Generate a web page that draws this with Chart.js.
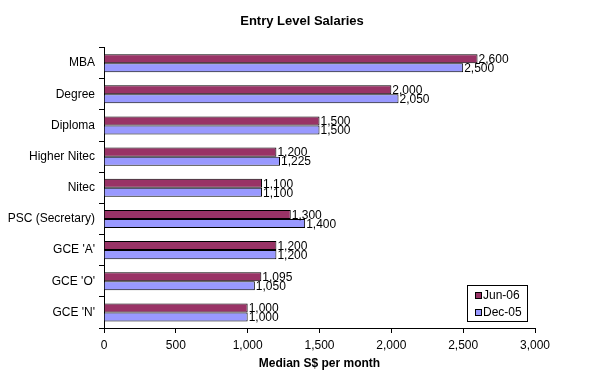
<!DOCTYPE html>
<html>
<head>
<meta charset="utf-8">
<script src="https://cdn.jsdelivr.net/npm/chart.js@4.4.0/dist/chart.umd.min.js"></script>
<style>
  html, body { margin: 0; padding: 0; background: #fff; }
  #wrap { width: 604px; height: 380px; }
</style>
</head>
<body>
<div id="wrap"><canvas id="barChart" width="604" height="380"></canvas></div>
<script>
var categories = ['MBA', 'Degree', 'Diploma', 'Higher Nitec', 'Nitec', 'PSC (Secretary)', "GCE 'A'", "GCE 'O'", "GCE 'N'"];
var jun06 = [2600, 2000, 1500, 1200, 1100, 1300, 1200, 1095, 1000];
var dec05 = [2500, 2050, 1500, 1225, 1100, 1400, 1200, 1050, 1000];
var seriesNames = ['Jun-06', 'Dec-05'];
var xTicks = [0, 500, 1000, 1500, 2000, 2500, 3000];

var FONT = "'Liberation Sans', Arial, sans-serif";

// value labels at the end of each bar
var valueLabels = {
    id: 'valueLabels',
    afterDatasetsDraw: function (chart) {
        var ctx = chart.ctx;
        ctx.save();
        ctx.font = '12px ' + FONT;
        ctx.fillStyle = '#000';
        ctx.textAlign = 'left';
        ctx.textBaseline = 'middle';
        chart.data.datasets.forEach(function (ds, i) {
            chart.getDatasetMeta(i).data.forEach(function (bar, j) {
                ctx.fillText(ds.data[j].toLocaleString('en-US'), bar.x + 1, bar.y + 1);
            });
        });
        ctx.restore();
    }
};

// boxed legend inside the plot, bottom right
var boxLegend = {
    id: 'boxLegend',
    afterDraw: function (chart) {
        var ctx = chart.ctx;
        var a = chart.chartArea;
        var w = 60, h = 36;
        var x = a.right - 68, y = a.bottom - 43;
        ctx.save();
        ctx.fillStyle = '#fff';
        ctx.fillRect(x, y, w, h);
        ctx.strokeStyle = '#000';
        ctx.lineWidth = 1;
        ctx.strokeRect(x + 0.5, y + 0.5, w, h);
        ctx.font = '12px ' + FONT;
        ctx.textBaseline = 'middle';
        chart.data.datasets.forEach(function (ds, i) {
            var cy = y + 10 + i * 17;
            ctx.fillStyle = ds.backgroundColor;
            ctx.fillRect(x + 8, cy - 3, 7, 7);
            ctx.strokeRect(x + 8.5, cy - 2.5, 6, 6);
            ctx.fillStyle = '#000';
            ctx.fillText(ds.label, x + 16, cy + 1);
        });
        ctx.restore();
    }
};

function Charts() {
    var canvas = document.getElementById('barChart').getContext('2d');

    var barData = {
        labels: categories,
        datasets: [
            {
                label: seriesNames[0],
                data: jun06,
                backgroundColor: '#993366',
                borderColor: '#000',
                borderWidth: 1
            },
            {
                label: seriesNames[1],
                data: dec05,
                backgroundColor: '#9999FF',
                borderColor: '#000',
                borderWidth: 1
            }
        ]
    };

    var barOptions = {
        indexAxis: 'y',
        responsive: false,
        animation: false,
        categoryPercentage: 0.58,
        barPercentage: 1.0,
        layout: { padding: 0 },
        plugins: {
            legend: { display: false },
            tooltip: { enabled: false },
            title: {
                display: true,
                text: 'Entry Level Salaries',
                color: '#000',
                font: { family: FONT, size: 13, weight: 'bold' },
                padding: { top: 14, bottom: 18 }
            }
        },
        scales: {
            x: {
                min: 0,
                max: 3000,
                afterBuildTicks: function (s) {
                    s.ticks = xTicks.map(function (v) { return { value: v }; });
                },
                afterFit: function (s) { s.height = 52; },
                border: { display: true, color: '#000', width: 1 },
                grid: { drawOnChartArea: false, drawTicks: true, tickLength: 5, color: '#000' },
                ticks: {
                    color: '#000',
                    padding: 5,
                    maxRotation: 0,
                    font: { family: FONT, size: 12 },
                    callback: function (v) { return v.toLocaleString('en-US'); }
                },
                title: {
                    display: true,
                    text: 'Median S$ per month',
                    color: '#000',
                    font: { family: FONT, size: 12, weight: 'bold' },
                    padding: { top: 4, bottom: 9 }
                }
            },
            y: {
                afterFit: function (s) { s.width = 104; },
                border: { display: true, color: '#000', width: 1 },
                grid: { drawOnChartArea: false, drawTicks: true, tickLength: 5, color: '#000', offset: true },
                ticks: {
                    color: '#000',
                    padding: 4,
                    font: { family: FONT, size: 12 }
                }
            },
            // empty right margin so the title stays centred on the page
            yRight: {
                type: 'linear',
                position: 'right',
                afterFit: function (s) { s.width = 69; },
                border: { display: false },
                grid: { display: false },
                ticks: { display: false }
            }
        }
    };

    new Chart(canvas, {
        type: 'bar',
        data: barData,
        options: barOptions,
        plugins: [valueLabels, boxLegend]
    });
}

Charts();
</script>
</body>
</html>
